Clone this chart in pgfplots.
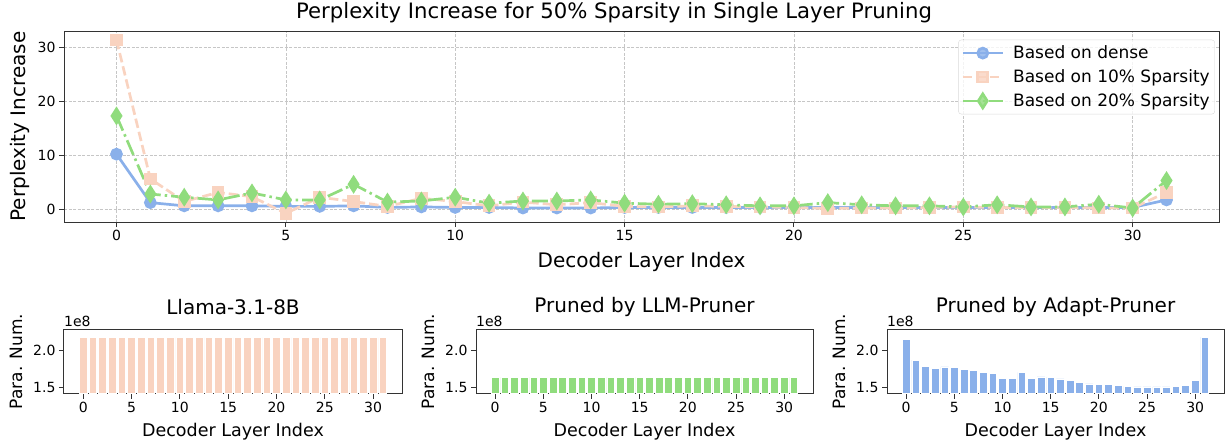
\documentclass[border=0pt]{standalone}
\usepackage{pgfplots}
\usepackage{pgfplotstable}
\pgfplotsset{compat=1.18}
\usepackage{fontspec}
\setmainfont{DejaVu Sans}
\definecolor{cblue}{RGB}{138,176,234}
\definecolor{ctan}{RGB}{249,211,192}
\definecolor{cgreen}{RGB}{144,220,125}

\pgfplotstableread{
x dense s10 s20
0 10.2 31.4 17.3
1 1.2 5.6 2.8
2 0.6 1.4 2.2
3 0.6 3.1 1.7
4 0.6 2.3 3.0
5 0.5 -0.8 1.7
6 0.5 2.2 1.7
7 0.6 1.4 4.6
8 0.3 0.5 1.3
9 0.4 2.0 1.5
10 0.3 1.4 2.2
11 0.3 0.6 1.1
12 0.2 1.3 1.5
13 0.2 0.8 1.5
14 0.2 1.2 1.7
15 0.3 0.5 1.1
16 0.3 0.4 0.9
17 0.3 0.6 1.0
18 0.3 0.5 0.8
19 0.3 0.4 0.6
20 0.3 0.3 0.6
21 0.3 0.1 1.2
22 0.3 0.2 0.8
23 0.3 0.2 0.6
24 0.3 0.3 0.6
25 0.3 0.4 0.4
26 0.3 0.3 0.8
27 0.3 0.3 0.4
28 0.3 0.3 0.4
29 0.3 0.2 0.9
30 0.3 0.2 0.2
31 1.7 3.1 5.3
}\ppl

\pgfplotstableread{
x llama llmp adapt
0 2.18 1.636 2.155
1 2.18 1.636 1.873
2 2.18 1.636 1.790
3 2.18 1.636 1.764
4 2.18 1.636 1.780
5 2.18 1.636 1.777
6 2.18 1.636 1.750
7 2.18 1.636 1.736
8 2.18 1.636 1.705
9 2.18 1.636 1.695
10 2.18 1.636 1.623
11 2.18 1.636 1.623
12 2.18 1.636 1.705
13 2.18 1.636 1.627
14 2.18 1.636 1.645
15 2.18 1.636 1.641
16 2.18 1.636 1.618
17 2.18 1.636 1.600
18 2.18 1.636 1.568
19 2.18 1.636 1.550
20 2.18 1.636 1.545
21 2.18 1.636 1.545
22 2.18 1.636 1.527
23 2.18 1.636 1.514
24 2.18 1.636 1.509
25 2.18 1.636 1.509
26 2.18 1.636 1.509
27 2.18 1.636 1.509
28 2.18 1.636 1.514
29 2.18 1.636 1.527
30 2.18 1.636 1.600
31 2.18 1.636 2.186
}\params

\pgfplotsset{
  common/.style={
    scale only axis, anchor=north west,
    axis line style={line width=1pt, black!80},
    tick style={line width=1pt, black!80},
    tick align=outside, major tick length=5pt,
    tick pos=left,
    ticklabel style={font=\fontsize{14}{16}\selectfont},
    /pgf/number format/assume math mode=true,
  },
  bottom/.style={
    common, width=337pt, height=64.2pt,
    xmin=-1.99, xmax=32.99, ymin=1.415, ymax=2.29,
    xtick={0,5,10,15,20,25,30},
    ytick={1.5,2.0}, yticklabels={1.5,2.0},
    xlabel={Decoder Layer Index},
    ylabel={Para. Num.},
    xlabel style={font=\fontsize{17.5}{20}\selectfont, at={(axis description cs:0.5,-0.597)}, anchor=center},
    ylabel style={font=\fontsize{17}{20}\selectfont, at={(axis description cs:-0.142,0.5)}, anchor=center},
    title style={font=\fontsize{20}{24}\selectfont, at={(axis description cs:0.5,1.257)}, anchor=center},
    extra description/.code={\node[anchor=south west, inner sep=0pt, font=\fontsize{14}{16}\selectfont] at (0,1) [yshift=3pt] {1e8};},
  },
  barst/.style={ybar, bar width=0.8, bar shift=0pt, draw=white, line width=0.6pt},
}

\begin{document}
\begin{tikzpicture}[x=1pt,y=1pt]
\useasboundingbox (0,0) rectangle (1228,-444);

\node[font=\fontsize{21.2}{25}\selectfont] at (614,-13) {Perplexity Increase for 50\% Sparsity in Single Layer Pruning};

\begin{axis}[common,
  at={(64pt,-31pt)}, width=1155pt, height=191pt,
  xmin=-1.55, xmax=32.55, ymin=-2.4, ymax=33.07,
  xtick={0,5,10,15,20,25,30}, ytick={0,10,20,30},
  grid=major, major grid style={dash pattern=on 3pt off 1.5pt, gray!45, line width=0.6pt},
  xlabel={Decoder Layer Index}, ylabel={Perplexity Increase},
  xlabel style={font=\fontsize{20}{24}\selectfont, at={(axis description cs:0.5,-0.209)}, anchor=center},
  ylabel style={font=\fontsize{20}{24}\selectfont, at={(axis description cs:-0.0381,0.5)}, anchor=center},
  legend style={at={(axis description cs:0.9965,0.9545)}, anchor=north east,
    draw=gray!30, rounded corners=3pt, fill=white, fill opacity=0.8, text opacity=1,
    font=\fontsize{17}{20}\selectfont, inner xsep=3pt, inner ysep=4pt, row sep=5.5pt,
    nodes={font=\fontsize{17}{20}\selectfont},
    /tikz/every odd column/.append style={column sep=7pt}},
  legend cell align=left,
  legend image code/.code={\draw[mark repeat=2,mark phase=2] plot coordinates {(0pt,0pt) (20pt,0pt) (40pt,0pt)};},
]
\addplot[cblue, line width=2.7pt, mark=*, mark size=5pt, mark options={solid}] table[x=x,y=dense] {\ppl};
\addlegendentry{Based on dense}
\addplot[ctan, line width=2.7pt, dash pattern=on 9.5pt off 4pt, mark=square*, mark size=5pt, mark options={solid}] table[x=x,y=s10] {\ppl};
\addlegendentry{Based on 10\% Sparsity}
\addplot[cgreen, line width=2.7pt, dash pattern=on 16pt off 4pt on 2.5pt off 4pt, mark=diamond*, mark size=7pt, mark options={solid, xscale=0.85}] table[x=x,y=s20] {\ppl};
\addlegendentry{Based on 20\% Sparsity}
\end{axis}

\begin{axis}[bottom, at={(64pt,-329.5pt)}, width=338pt, title={Llama-3.1-8B}]
\addplot[barst, fill=ctan] table[x=x,y=llama] {\params};
\end{axis}

\begin{axis}[bottom, at={(476pt,-329.5pt)}, title={Pruned by LLM-Pruner}]
\addplot[barst, fill=cgreen] table[x=x,y=llmp] {\params};
\end{axis}

\begin{axis}[bottom, at={(887pt,-329.5pt)}, title={Pruned by Adapt-Pruner}]
\addplot[barst, fill=cblue] table[x=x,y=adapt] {\params};
\end{axis}
\end{tikzpicture}
\end{document}
